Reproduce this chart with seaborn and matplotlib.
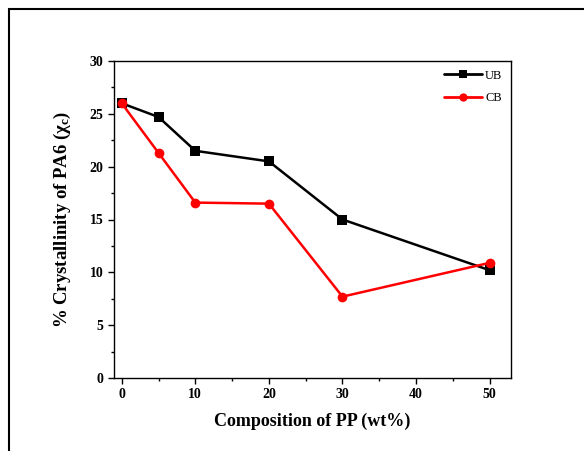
import matplotlib
matplotlib.use("Agg")
import matplotlib.pyplot as plt
import seaborn as sns
import pandas as pd
from matplotlib.ticker import MultipleLocator
from matplotlib.patches import Rectangle

composition = [0, 5, 10, 20, 30, 50]
ub_values = [26.0, 24.7, 21.5, 20.5, 15.0, 10.2]
cb_values = [26.0, 21.3, 16.6, 16.5, 7.7, 10.9]
series_names = ["UB", "CB"]

sns.set_style("ticks")
plt.rcParams['font.family'] = ['Liberation Serif', 'DejaVu Serif']
plt.rcParams['mathtext.fontset'] = 'custom'
plt.rcParams['mathtext.rm'] = 'Liberation Serif'
plt.rcParams['mathtext.bf'] = 'Liberation Serif:bold'
plt.rcParams['mathtext.it'] = 'Liberation Serif:italic'
for k in ['text.color', 'axes.labelcolor', 'xtick.color', 'ytick.color', 'axes.edgecolor']:
    plt.rcParams[k] = 'black'

df = pd.DataFrame({
    "x": composition * 2,
    "y": ub_values + cb_values,
    "series": [series_names[0]] * len(composition) + [series_names[1]] * len(composition),
})

fig = plt.figure(figsize=(5.84, 4.51), dpi=100)
ax = fig.add_axes([114/584, 1 - 378/451, (511-114)/584, (378-61)/451])

sns.lineplot(data=df, x="x", y="y", hue="series", style="series",
             palette={"UB": "black", "CB": "red"},
             markers={"UB": "s", "CB": "o"}, dashes=False,
             markersize=7, linewidth=1.8, markeredgewidth=0,
             ax=ax)

ax.set_xlim(-1.05, 52.9)
ax.set_ylim(0, 30)
ax.xaxis.set_major_locator(MultipleLocator(10))
ax.xaxis.set_minor_locator(MultipleLocator(5))
ax.yaxis.set_major_locator(MultipleLocator(5))
ax.yaxis.set_minor_locator(MultipleLocator(2.5))
ax.tick_params(which='major', direction='out', length=4, width=1, labelsize=10)
ax.tick_params(which='minor', direction='out', length=2.5, width=1)
for lab in ax.get_xticklabels() + ax.get_yticklabels():
    lab.set_fontweight('bold')
for sp in ax.spines.values():
    sp.set_visible(True)
    sp.set_linewidth(1)
    sp.set_color('black')

ax.set_xlabel("Composition of PP (wt%)", fontsize=13, fontweight='bold', labelpad=8)
ax.set_ylabel(r"% Crystallinity of PA6 ($\mathbf{\chi}_{\mathbf{c}}$)", fontsize=13.5,
              fontweight='bold', labelpad=12)

leg = ax.legend(loc='upper right', frameon=False, fontsize=9, handlelength=3.0,
                borderaxespad=0.3, handletextpad=0.25, labelspacing=0.85,
                markerscale=0.85)
for line in leg.get_lines():
    line.set_linewidth(2.0)

fig.patches.append(Rectangle((9/584, -0.1), 1.2, 1 - 9/451 + 0.1,
                             transform=fig.transFigure, fill=False,
                             edgecolor='black', linewidth=1.5))

fig.savefig("out.png", dpi=100)
